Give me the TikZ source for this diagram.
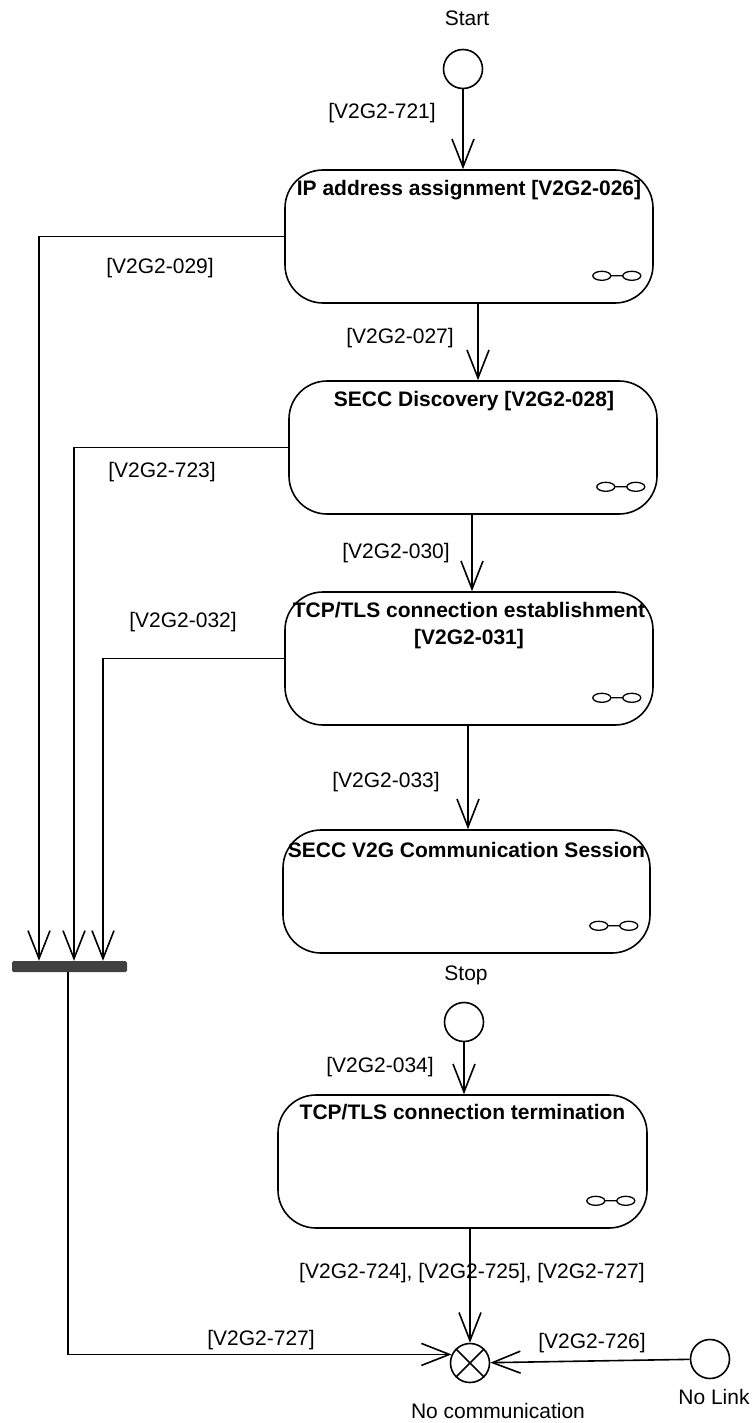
\documentclass[tikz,border=0pt]{standalone}
\usepackage{fontspec}
\setmainfont{Liberation Sans}
\usetikzlibrary{arrows.meta,calc}
\begin{document}
\begin{tikzpicture}[x=1pt,y=-1pt,
  every node/.style={font=\fontsize{21}{27}\selectfont, inner sep=0pt},
  state/.style={draw, line width=1.6pt, rounded corners=38pt, minimum width=368pt, minimum height=133pt},
  ttl/.style={font=\fontsize{21}{27}\selectfont\bfseries, align=center},
  pseudo/.style={draw, circle, line width=1.6pt, minimum size=39pt},
  arr/.style={line width=1.6pt, -{Straight Barb[length=28pt,width=22pt]}},
  ln/.style={line width=1.6pt},
  icon/.style={line width=1.3pt},
  joinbar/.style={fill=black!75, rounded corners=1.5pt, minimum width=115pt, minimum height=11pt}
]
\useasboundingbox (0,0) rectangle (755,1423);
% states
\node[state] (b1) at (469,236.5) {};
\node[ttl] (t1) at (469,190) {IP address assignment [V2G2-026]};
\node[state] (b2) at (473,447.5) {};
\node[ttl] (t2) at (474,401) {SECC Discovery [V2G2-028]};
\node[state] (b3) at (469,658.5) {};
\node[ttl] (t3) at (469,625.5) {TCP/TLS connection establishment\\{}[V2G2-031]};
\node[state, minimum width=367pt, minimum height=123pt] (b4) at (466.5,891.5) {};
\node[ttl] (t4) at (466.5,850) {SECC V2G Communication Session};
\node[state, minimum width=369pt, minimum height=133pt] (b5) at (462.5,1161.5) {};
\node[ttl] (t5) at (462.5,1112) {TCP/TLS connection termination};
\foreach \b in {b1,b2,b3,b4,b5}{
  \draw[icon] ($(\b.south east)+(-52,-28)$) ellipse [x radius=9pt,y radius=4.5pt]
     ++(9,0) -- ++(12,0) ++(9,0) ellipse [x radius=9pt,y radius=4.5pt];
}
% pseudo states
\node (startlbl) at (467,18) {Start};
\node[pseudo] (start) at (463,69) {};
\node (stoplbl) at (466,975) {Stop};
\node[pseudo] (stop) at (464,1022) {};
\node[pseudo] (x) at (470,1363) {};
\draw[ln] (x.45) -- (x.225) (x.135) -- (x.315);
\node (xl) at (498,1411) {No communication};
\node[pseudo] (nl) at (710,1359) {};
\node (nll) at (714,1397) {No Link};
\node[joinbar] (bar) at (69.5,966.5) {};
% connectors
\draw[arr] (start) -- (start |- b1.north);
\draw[arr] (478,0 |- b1.south) -- (478,0 |- b2.north);
\draw[arr] (472,0 |- b2.south) -- (472,0 |- b3.north);
\draw[arr] (468,0 |- b3.south) -- (468,0 |- b4.north);
\draw[arr] (stop) -- (stop |- b5.north);
\draw[arr] (x.north |- b5.south) -- (x.north);
\draw[arr] (b1.west) -| (39,0 |- bar.north);
\draw[arr] (b2.west) -| (74,0 |- bar.north);
\draw[arr] (b3.west) -| (103,0 |- bar.north);
\draw[arr] (68,0 |- bar.south) |- (x.155);
\draw[arr] (nl) -- (x);
% labels
\node (l721) at (382,113) {[V2G2-721]};
\node (l029) at (160,268) {[V2G2-029]};
\node (l027) at (400,338) {[V2G2-027]};
\node (l723) at (162,472) {[V2G2-723]};
\node (l030) at (396,553) {[V2G2-030]};
\node (l032) at (183,622) {[V2G2-032]};
\node (l033) at (386,782) {[V2G2-033]};
\node (l034) at (380,1067) {[V2G2-034]};
\node (l724) at (472,1273) {[V2G2-724], [V2G2-725], [V2G2-727]};
\node (l727) at (261,1340) {[V2G2-727]};
\node (l726) at (592,1343) {[V2G2-726]};
\end{tikzpicture}
\end{document}
